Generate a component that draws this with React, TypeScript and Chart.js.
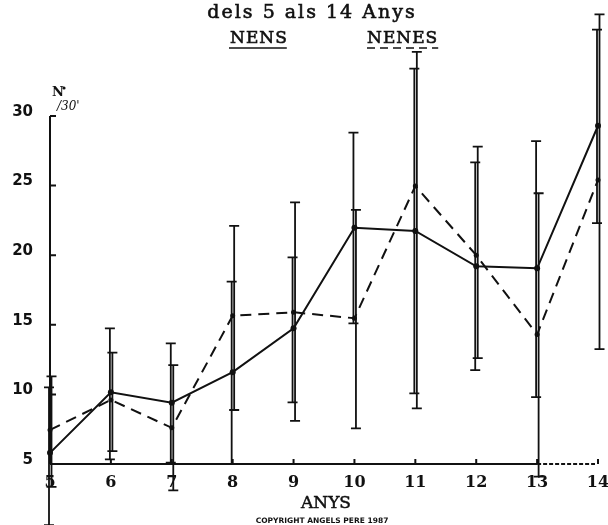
import React, { useEffect, useRef } from "react";
import { Chart, registerables } from "chart.js";

Chart.register(...registerables);

const ages = [5, 6, 7, 8, 9, 10, 11, 12, 13, 14];
const boysMean = [5.8, 10.15, 9.4, 11.6, 14.75, 21.97, 21.74, 19.2, 19.06, 29.3];
const girlsMean = [7.45, 9.6, 7.6, 15.65, 15.9, 15.47, 24.97, 20.0, 14.3, 25.4];
const boysLow = [0.6, 5.33, 5.1, 5.0, 9.43, 15.1, 10.08, 11.75, 9.8, 22.3];
const boysHigh = [10.5, 14.75, 13.67, 18.1, 19.85, 28.8, 33.4, 26.67, 28.2, 36.2];
const girlsLow = [3.35, 5.93, 3.1, 8.88, 8.1, 7.56, 9.0, 12.6, 4.1, 13.25];
const girlsHigh = [11.3, 13.0, 12.1, 22.1, 23.8, 23.25, 34.6, 27.8, 24.45, 37.3];
const yTicks = [5, 10, 15, 20, 25, 30];

const title = "dels 5 als 14 Anys";
const boysLabel = "NENS";
const girlsLabel = "NENES";
const xTitle = "ANYS";
const copyright = "COPYRIGHT ANGELS PERE 1987";

const INK = "#111";

const errorBarsPlugin = {
  id: "errorBars",
  afterDatasetsDraw(chart: any) {
    const { ctx } = chart;
    const xs = chart.scales.x;
    const ys = chart.scales.y;
    ctx.save();
    ctx.strokeStyle = INK;
    ctx.lineWidth = 1.8;
    const draw = (x: number, lo: number, hi: number) => {
      const y1 = ys.getPixelForValue(lo);
      const y2 = ys.getPixelForValue(hi);
      ctx.beginPath();
      ctx.moveTo(x, y1);
      ctx.lineTo(x, y2);
      ctx.moveTo(x - 5, y1);
      ctx.lineTo(x + 5, y1);
      ctx.moveTo(x - 5, y2);
      ctx.lineTo(x + 5, y2);
      ctx.stroke();
    };
    ages.forEach((a, i) => {
      const x = xs.getPixelForValue(a);
      draw(x - 1, boysLow[i], boysHigh[i]);
      draw(x + 1.5, girlsLow[i], girlsHigh[i]);
    });
    ctx.restore();
  },
};

const axesPlugin = {
  id: "handAxes",
  beforeDatasetsDraw(chart: any) {
    const { ctx } = chart;
    const xs = chart.scales.x;
    const ys = chart.scales.y;
    const x0 = xs.getPixelForValue(ages[0]);
    const y0 = ys.getPixelForValue(yTicks[0]);
    const yTop = ys.getPixelForValue(yTicks[yTicks.length - 1]);
    ctx.save();
    ctx.strokeStyle = INK;
    ctx.lineWidth = 2;
    ctx.beginPath();
    ctx.moveTo(x0, yTop);
    ctx.lineTo(x0, y0);
    yTicks.forEach((t) => {
      const y = ys.getPixelForValue(t);
      ctx.moveTo(x0, y);
      ctx.lineTo(x0 + 6, y);
    });
    const x13 = xs.getPixelForValue(13);
    ctx.moveTo(x0, y0);
    ctx.lineTo(x13, y0);
    ages.forEach((a) => {
      const x = xs.getPixelForValue(a);
      ctx.moveTo(x, y0);
      ctx.lineTo(x, y0 - 5);
    });
    ctx.stroke();
    ctx.beginPath();
    ctx.setLineDash([4, 2]);
    ctx.moveTo(x13, y0);
    ctx.lineTo(xs.getPixelForValue(14) - 3, y0);
    ctx.stroke();
    ctx.restore();
  },
};

const textPlugin = {
  id: "texts",
  afterDraw(chart: any) {
    const { ctx } = chart;
    ctx.save();
    ctx.fillStyle = INK;
    ctx.strokeStyle = INK;
    ctx.textBaseline = "alphabetic";

    ctx.font = '19px "DejaVu Serif"';
    (ctx as any).letterSpacing = "2px";
    ctx.textAlign = "center";
    ctx.lineWidth = 0.6;
    ctx.fillText(title, 312, 18);
    ctx.strokeText(title, 312, 18);

    ctx.font = '17px "DejaVu Serif"';
    (ctx as any).letterSpacing = "1px";
    ctx.textAlign = "left";
    ctx.fillText(boysLabel, 230, 43);
    ctx.strokeText(boysLabel, 230, 43);
    const w1 = ctx.measureText(boysLabel).width;
    ctx.fillText(girlsLabel, 367, 43);
    ctx.strokeText(girlsLabel, 367, 43);
    const w2 = ctx.measureText(girlsLabel).width;
    ctx.lineWidth = 1.5;
    ctx.beginPath();
    ctx.moveTo(229, 48);
    ctx.lineTo(229 + w1, 48);
    ctx.stroke();
    ctx.beginPath();
    ctx.setLineDash([8, 5]);
    ctx.moveTo(367, 48);
    ctx.lineTo(367 + w2, 48);
    ctx.stroke();
    ctx.setLineDash([]);

    (ctx as any).letterSpacing = "0px";
    ctx.font = 'bold 13px "DejaVu Serif"';
    ctx.fillText("N", 52, 96);
    ctx.beginPath();
    ctx.arc(64, 88, 1.6, 0, Math.PI * 2);
    ctx.fill();
    ctx.font = 'italic 12px "DejaVu Serif"';
    ctx.fillText("/30'", 57, 110);

    ctx.font = '17px "DejaVu Serif"';
    ctx.textAlign = "center";
    ctx.lineWidth = 0.5;
    ctx.fillText(xTitle, 326, 508);
    ctx.strokeText(xTitle, 326, 508);

    ctx.font = 'bold 7.5px "DejaVu Sans"';
    ctx.fillText(copyright, 322, 523);
    ctx.restore();
  },
};

export default function App() {
  const ref = useRef<HTMLCanvasElement>(null);
  useEffect(() => {
    if (!ref.current) return;
    const chart = new Chart(ref.current, {
      type: "line",
      data: {
        datasets: [
          {
            label: boysLabel,
            data: ages.map((a, i) => ({ x: a, y: boysMean[i] })),
            borderColor: INK,
            backgroundColor: INK,
            borderWidth: 2,
            pointRadius: 3,
            pointBackgroundColor: INK,
            pointBorderWidth: 0,
            tension: 0,
            clip: false as any,
          },
          {
            label: girlsLabel,
            data: ages.map((a, i) => ({ x: a, y: girlsMean[i] })),
            borderColor: INK,
            backgroundColor: INK,
            borderWidth: 2,
            borderDash: [11, 7],
            pointRadius: 2.5,
            pointBackgroundColor: INK,
            pointBorderWidth: 0,
            tension: 0,
            clip: false as any,
          },
        ],
      },
      options: {
        animation: false,
        responsive: false,
        devicePixelRatio: 1,
        layout: { padding: { top: 116, right: 10, left: 0, bottom: 0 } },
        plugins: {
          legend: { display: false },
          tooltip: { enabled: false },
          title: { display: false },
        },
        scales: {
          x: {
            type: "linear",
            min: 5,
            max: 14,
            grid: { display: false, drawTicks: false },
            border: { display: false },
            ticks: {
              stepSize: 1,
              padding: 9,
              color: INK,
              font: { family: "DejaVu Serif", size: 16, weight: "bold" },
            },
            afterFit(scale: any) {
              scale.height = 61;
              scale.paddingLeft = 0;
              scale.paddingRight = 0;
            },
          },
          y: {
            type: "linear",
            min: 5,
            max: 30,
            grid: { display: false, drawTicks: false },
            border: { display: false },
            ticks: {
              stepSize: 5,
              padding: 17,
              labelOffset: -4,
              color: INK,
              font: { family: "DejaVu Sans", size: 15, weight: "bold" },
            },
            afterFit(scale: any) {
              scale.width = 50;
              scale.paddingTop = 0;
              scale.paddingBottom = 0;
            },
          },
        },
      },
      plugins: [axesPlugin, errorBarsPlugin, textPlugin],
    });
    return () => chart.destroy();
  }, []);
  return (
    <div style={{ position: "absolute", left: 0, top: 0, width: 608, height: 525, background: "#fff" }}>
      <canvas ref={ref} width={608} height={525} style={{ display: "block" }} />
    </div>
  );
}
